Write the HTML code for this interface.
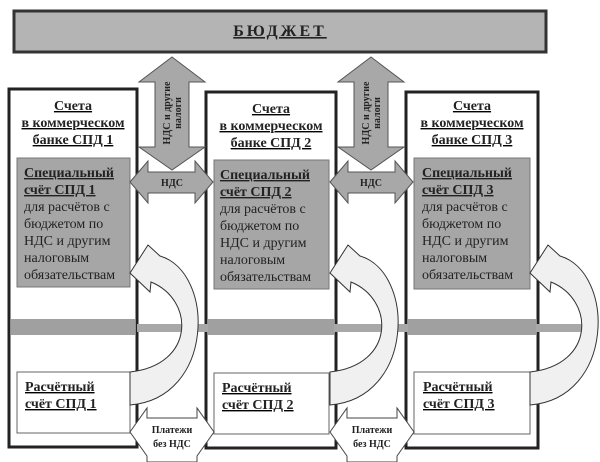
<!DOCTYPE html>
<html><head><meta charset="utf-8"><style>
html,body{margin:0;padding:0;background:#fff;}
svg{display:block;}
svg, svg text{font-family:"Liberation Serif","DejaVu Serif",serif !important;}
text{fill:#222;}
.b{font-weight:bold;}
</style></head><body>
<svg width="600" height="462" viewBox="0 0 600 462" xmlns="http://www.w3.org/2000/svg" font-family="Liberation Serif, DejaVu Serif, serif">
<rect x="14" y="11" width="532" height="41" fill="#b4b4b4" stroke="#333" stroke-width="3"/>
<text x="280" y="36" text-anchor="middle" class="b" font-size="16" letter-spacing="3" text-decoration="underline">БЮДЖЕТ</text>

<rect x="9" y="89" width="128" height="358" fill="#fff" stroke="#222" stroke-width="3"/>
<rect x="206" y="92" width="130" height="356" fill="#fff" stroke="#222" stroke-width="3"/>
<rect x="406" y="92" width="132" height="356" fill="#fff" stroke="#222" stroke-width="3"/>

<rect x="137" y="324" width="460" height="8" fill="#a8a8a8"/>
<rect x="11" y="319" width="124" height="16" fill="#a0a0a0"/>
<rect x="208" y="319" width="126" height="16" fill="#a0a0a0"/>
<rect x="408" y="319" width="128" height="16" fill="#a0a0a0"/>

<rect x="17" y="158" width="113" height="129" fill="#a6a6a6" stroke="#777" stroke-width="1"/>
<rect x="214" y="160" width="115" height="129" fill="#a6a6a6" stroke="#777" stroke-width="1"/>
<rect x="414" y="158" width="116" height="131" fill="#a6a6a6" stroke="#777" stroke-width="1"/>

<rect x="17" y="372" width="113" height="61" fill="#fff" stroke="#666" stroke-width="1"/>
<rect x="214" y="373" width="115" height="61" fill="#fff" stroke="#666" stroke-width="1"/>
<rect x="414" y="372" width="116" height="62" fill="#fff" stroke="#666" stroke-width="1"/>

<g class="b" font-size="14" text-anchor="middle" text-decoration="underline">
<text x="73" y="110">Счета</text><text x="73" y="127">в коммерческом</text><text x="73" y="144">банке СПД 1</text>
<text x="271" y="113">Счета</text><text x="271" y="130">в коммерческом</text><text x="271" y="147">банке СПД 2</text>
<text x="472" y="110">Счета</text><text x="472" y="127">в коммерческом</text><text x="472" y="144">банке СПД 3</text>
</g>

<g font-size="14">
<text x="24" y="177" class="b" text-decoration="underline">Специальный</text>
<text x="24" y="194" class="b" text-decoration="underline">счёт СПД 1</text>
<text x="24" y="211">для расчётов с</text><text x="24" y="228">бюджетом по</text><text x="24" y="245">НДС и другим</text><text x="24" y="262">налоговым</text><text x="24" y="279">обязательствам</text>
<text x="220" y="179" class="b" text-decoration="underline">Специальный</text>
<text x="220" y="196" class="b" text-decoration="underline">счёт СПД 2</text>
<text x="220" y="213">для расчётов с</text><text x="220" y="230">бюджетом по</text><text x="220" y="247">НДС и другим</text><text x="220" y="264">налоговым</text><text x="220" y="281">обязательствам</text>
<text x="422" y="177" class="b" text-decoration="underline">Специальный</text>
<text x="422" y="194" class="b" text-decoration="underline">счёт СПД 3</text>
<text x="422" y="211">для расчётов с</text><text x="422" y="228">бюджетом по</text><text x="422" y="245">НДС и другим</text><text x="422" y="262">налоговым</text><text x="422" y="279">обязательствам</text>
</g>
<g font-size="14" class="b" text-decoration="underline">
<text x="25" y="391">Расчётный</text><text x="25" y="408">счёт СПД 1</text>
<text x="222" y="392">Расчётный</text><text x="222" y="409">счёт СПД 2</text>
<text x="423" y="391">Расчётный</text><text x="423" y="408">счёт СПД 3</text>
</g>

<polygon points="172,57 205,82 189,82 189,147 205,147 172,170 139,147 155,147 155,82 139,82" fill="#a8a8a8" stroke="#555" stroke-width="1"/>
<polygon points="371,57 404,82 388,82 388,147 404,147 371,170 338,147 354,147 354,82 338,82" fill="#a8a8a8" stroke="#555" stroke-width="1"/>
<g class="b" font-size="10">
<text transform="translate(170,113) rotate(-90)" text-anchor="middle">НДС и другие</text>
<text transform="translate(181,113) rotate(-90)" text-anchor="middle">налоги</text>
<text transform="translate(369,113) rotate(-90)" text-anchor="middle">НДС и другие</text>
<text transform="translate(380,113) rotate(-90)" text-anchor="middle">налоги</text>
</g>

<polygon points="130,182 148,161 148,172 195,172 195,161 213,182 195,203 195,193 148,193 148,203" fill="#a8a8a8" stroke="#555" stroke-width="1"/>
<polygon points="330,182 348,161 348,172 395,172 395,161 413,182 395,203 395,193 348,193 348,203" fill="#a8a8a8" stroke="#555" stroke-width="1"/>
<text x="172" y="186" class="b" font-size="10" text-anchor="middle">НДС</text>
<text x="371" y="186" class="b" font-size="10" text-anchor="middle">НДС</text>

<polygon points="130,432 147,408 147,418 197,418 197,408 214,432 197,456 197,462 147,462 147,456" fill="#fff" stroke="#444" stroke-width="1"/>
<polygon points="330,432 347,408 347,418 397,418 397,408 414,432 397,456 397,462 347,462 347,456" fill="#fff" stroke="#444" stroke-width="1"/>
<g class="b" font-size="10" text-anchor="middle">
<text x="172" y="433">Платежи</text><text x="172" y="447">без НДС</text>
<text x="372" y="433">Платежи</text><text x="372" y="447">без НДС</text>
</g>

<g fill="#f0f0f0" stroke="#333" stroke-width="1">
<path d="M130,405 C215,398 215,272 160,256 L148,245 L130,273 L150,292 L151,282 C195,300 195,365 130,372 Z"/>
<path d="M330,405 C415,398 415,272 360,256 L348,245 L330,273 L350,292 L351,282 C395,300 395,365 330,372 Z"/>
<path d="M530,405 C615,398 615,272 560,256 L548,245 L530,273 L550,292 L551,282 C595,300 595,365 530,372 Z"/>
</g>
</svg>
</body></html>
